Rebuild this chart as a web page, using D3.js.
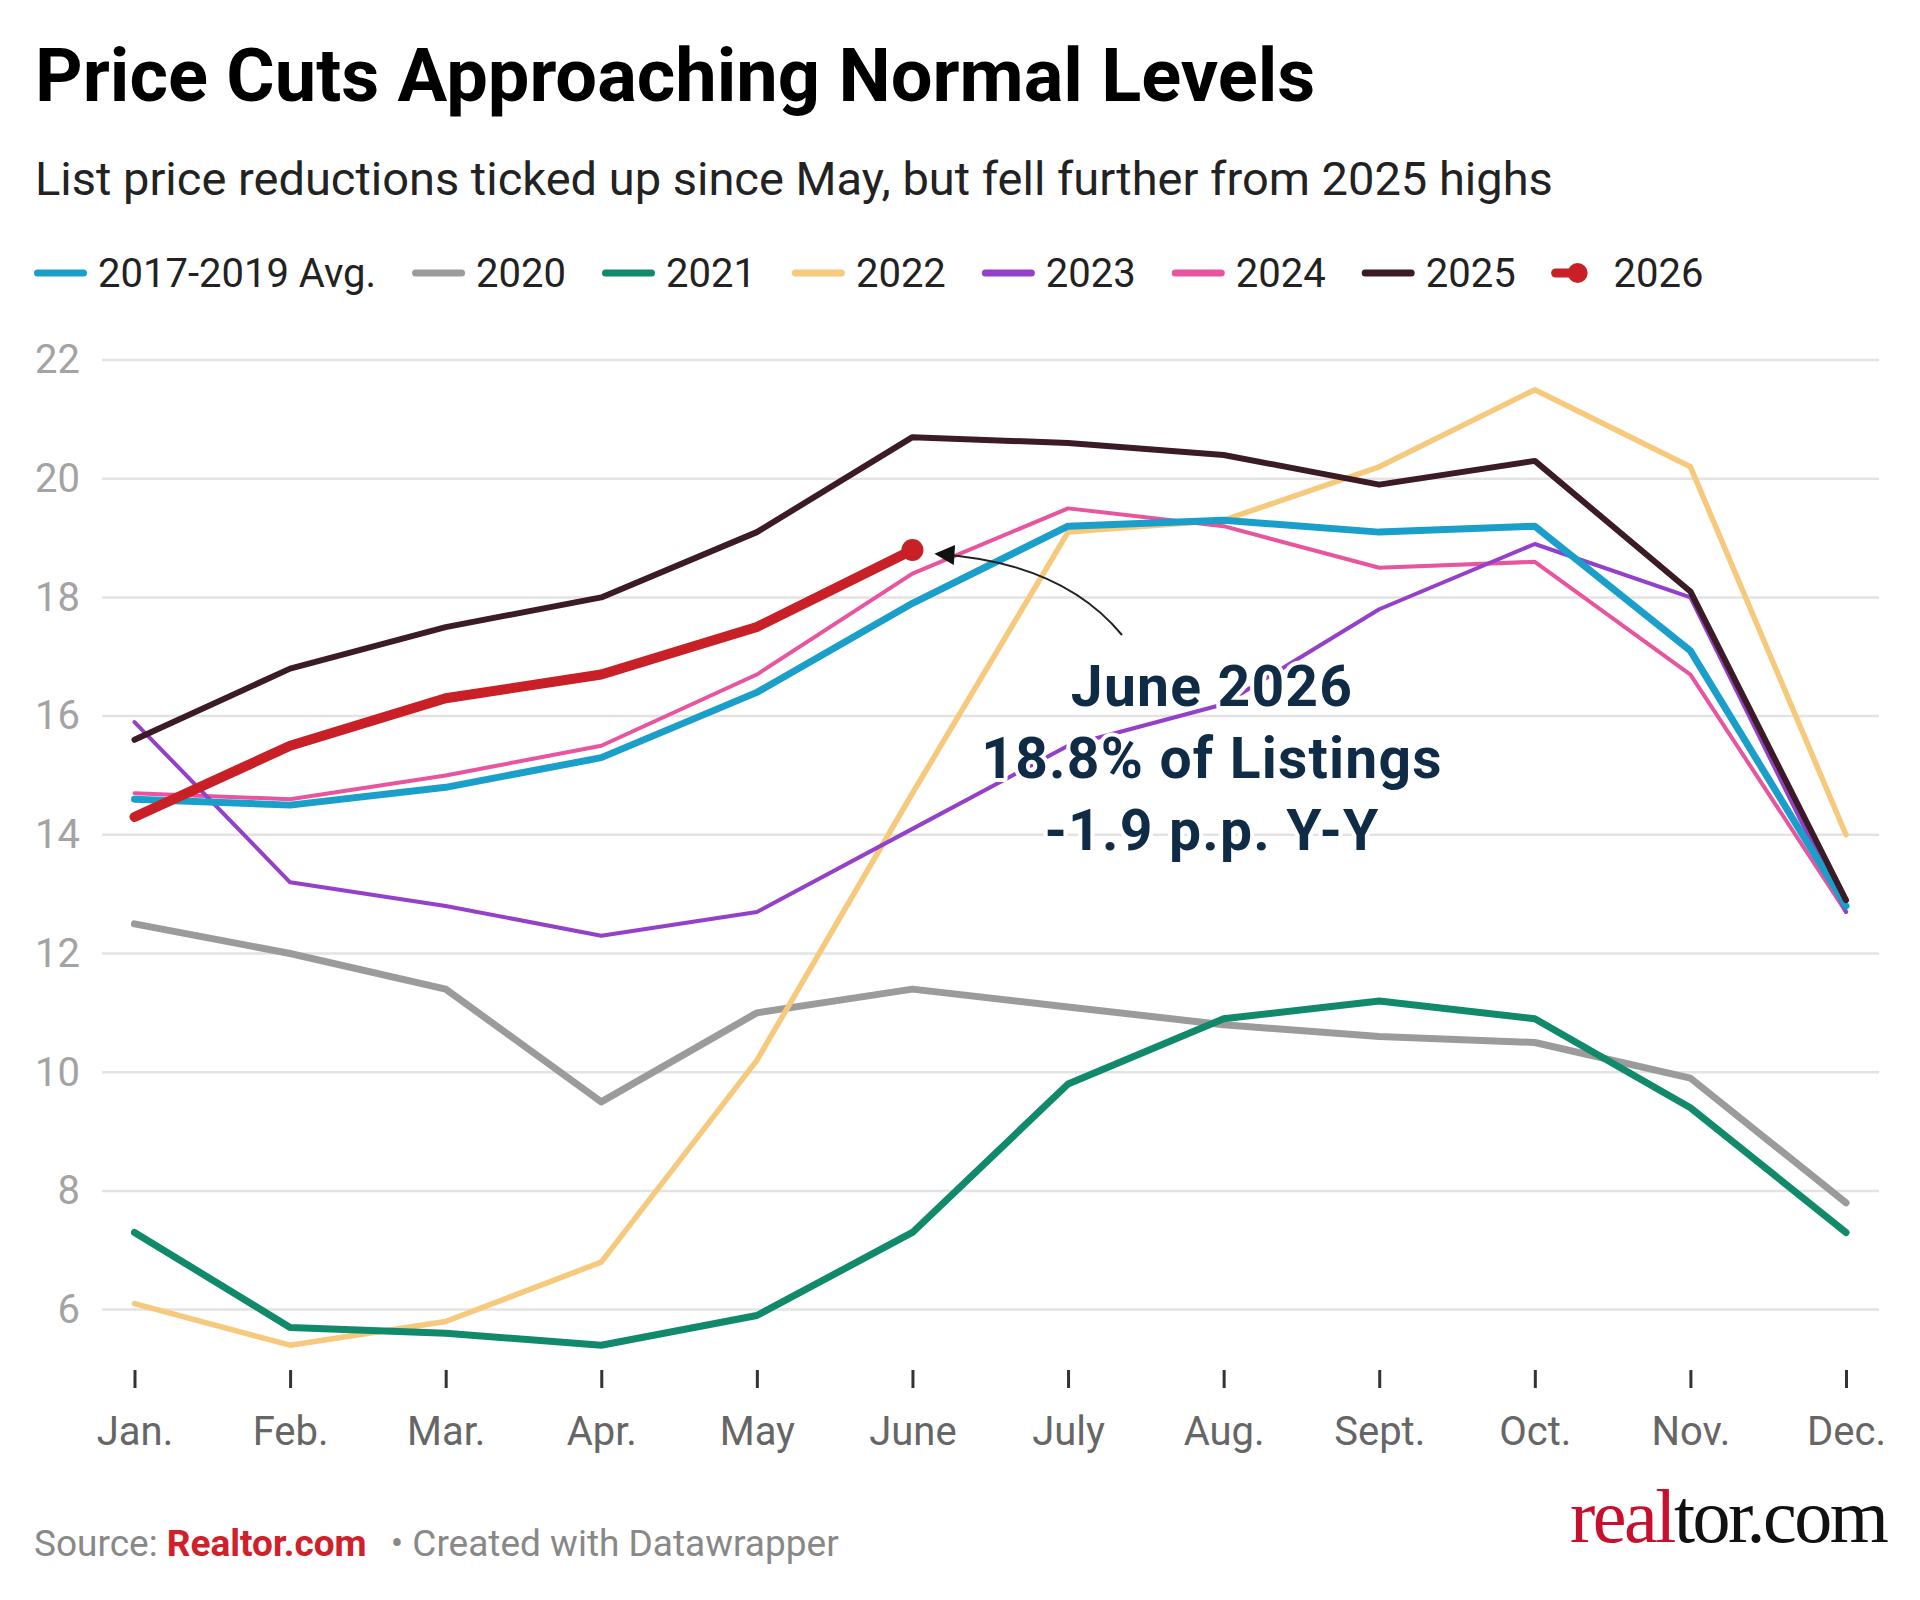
<!DOCTYPE html>
<html>
<head>
<meta charset="utf-8">
<script src="https://cdn.jsdelivr.net/npm/d3@7"></script>
<style>
  body { margin: 0; background: #fff; }
  svg { display: block; font-family: Roboto, "Noto Sans", sans-serif; }
</style>
</head>
<body>
<div id="chart"></div>
<script>
// month labels on the x axis
const months = ["Jan.", "Feb.", "Mar.", "Apr.", "May", "June", "July", "Aug.", "Sept.", "Oct.", "Nov.", "Dec."];
const yTicks = [6, 8, 10, 12, 14, 16, 18, 20, 22];

// share of listings with a price cut, %
const avg1719 = [14.6, 14.5, 14.8, 15.3, 16.4, 17.9, 19.2, 19.3, 19.1, 19.2, 17.1, 12.8];
const y2020 = [12.5, 12.0, 11.4, 9.5, 11.0, 11.4, 11.1, 10.8, 10.6, 10.5, 9.9, 7.8];
const y2021 = [7.3, 5.7, 5.6, 5.4, 5.9, 7.3, 9.8, 10.9, 11.2, 10.9, 9.4, 7.3];
const y2022 = [6.1, 5.4, 5.8, 6.8, 10.2, 14.7, 19.1, 19.3, 20.2, 21.5, 20.2, 14.0];
const y2023 = [15.9, 13.2, 12.8, 12.3, 12.7, 14.1, 15.5, 16.2, 17.8, 18.9, 18.0, 12.7];
const y2024 = [14.7, 14.6, 15.0, 15.5, 16.7, 18.4, 19.5, 19.2, 18.5, 18.6, 16.7, 12.7];
const y2025 = [15.6, 16.8, 17.5, 18.0, 19.1, 20.7, 20.6, 20.4, 19.9, 20.3, 18.1, 12.9];
const y2026 = [14.3, 15.5, 16.3, 16.7, 17.5, 18.8];

const seriesNames = ["2017-2019 Avg.", "2020", "2021", "2022", "2023", "2024", "2025", "2026"];
const seriesValues = [avg1719, y2020, y2021, y2022, y2023, y2024, y2025, y2026];
const seriesColors = ["#1a9fcb", "#9b9b9b", "#118a6b", "#f6c97c", "#9440c8", "#e8559f", "#3b1b25", "#c91f26"];
const seriesWidths = [7, 7, 7, 5.5, 4, 4, 6, 10];
// drawing order, bottom to top
const drawOrder = ["2020", "2022", "2021", "2024", "2023", "2017-2019 Avg.", "2025", "2026"];

const W = 1920, H = 1600;
const svg = d3.select("#chart").append("svg")
    .attr("width", W)
    .attr("height", H);

// title + subtitle
svg.append("text")
    .attr("x", 35).attr("y", 101)
    .attr("font-size", 74).attr("font-weight", 700)
    .attr("fill", "#000")
    .text("Price Cuts Approaching Normal Levels");

svg.append("text")
    .attr("x", 35).attr("y", 195)
    .attr("font-size", 47)
    .attr("fill", "#222")
    .text("List price reductions ticked up since May, but fell further from 2025 highs");

// legend
const legend = svg.append("g").attr("transform", "translate(34,273)");
let lx = 0;
seriesNames.forEach((name, i) => {
    const g = legend.append("g").attr("transform", `translate(${lx},0)`);
    if (name === "2026") {
        g.append("line")
            .attr("x1", 4).attr("x2", 26).attr("y1", 0).attr("y2", 0)
            .attr("stroke", seriesColors[i]).attr("stroke-width", 9)
            .attr("stroke-linecap", "round");
        g.append("circle").attr("cx", 26).attr("cy", 0).attr("r", 10)
            .attr("fill", seriesColors[i]);
    } else {
        g.append("line")
            .attr("x1", 3.5).attr("x2", 49.5).attr("y1", 0).attr("y2", 0)
            .attr("stroke", seriesColors[i]).attr("stroke-width", 7)
            .attr("stroke-linecap", "round");
    }
    const t = g.append("text")
        .attr("x", name === "2026" ? 62 : 64).attr("y", 14)
        .attr("font-size", 40)
        .attr("fill", "#222")
        .text(name);
    lx += 64 + t.node().getComputedTextLength() + 36;
});

// scales
const x = d3.scalePoint().domain(months).range([134.5, 1846]);
const y = d3.scaleLinear().domain([6, 22]).range([1309.6, 360]);

// gridlines
svg.append("g")
    .selectAll("line")
    .data(yTicks)
    .join("line")
    .attr("x1", 102).attr("x2", 1879)
    .attr("y1", d => y(d)).attr("y2", d => y(d))
    .attr("stroke", "#e3e3e3")
    .attr("stroke-width", 2.5);

// y axis labels
const yAxis = svg.append("g")
    .attr("transform", "translate(80,0)")
    .call(d3.axisLeft(y).tickValues(yTicks).tickSize(0).tickPadding(0));
yAxis.select(".domain").remove();
yAxis.selectAll("text")
    .attr("font-size", 40)
    .attr("font-family", "Roboto, sans-serif")
    .attr("fill", "#a3a3a3");

// x axis
const xAxis = svg.append("g")
    .attr("transform", "translate(0,1370)")
    .call(d3.axisBottom(x).tickSize(18).tickPadding(29));
xAxis.select(".domain").remove();
xAxis.selectAll("line").attr("stroke", "#333").attr("stroke-width", 3);
xAxis.selectAll("text")
    .attr("font-size", 40)
    .attr("font-family", "Roboto, sans-serif")
    .attr("fill", "#666");

// lines
const line = d3.line()
    .x((d, i) => x(months[i]))
    .y(d => y(d));

const linesG = svg.append("g");
drawOrder.forEach(name => {
    const i = seriesNames.indexOf(name);
    linesG.append("path")
        .datum(seriesValues[i])
        .attr("fill", "none")
        .attr("stroke", seriesColors[i])
        .attr("stroke-width", seriesWidths[i])
        .attr("stroke-linejoin", "round")
        .attr("stroke-linecap", "round")
        .attr("d", line);
});

// end dot on 2026
const last = y2026.length - 1;
linesG.append("circle")
    .attr("cx", x(months[last]))
    .attr("cy", y(y2026[last]))
    .attr("r", 11)
    .attr("fill", "#c91f26");

// annotation arrow
svg.append("defs").append("marker")
    .attr("id", "arrow")
    .attr("viewBox", "0 0 10 10")
    .attr("refX", 9).attr("refY", 5)
    .attr("markerWidth", 24).attr("markerHeight", 20)
    .attr("markerUnits", "userSpaceOnUse")
    .attr("orient", "auto")
    .append("path")
    .attr("d", "M0,0 L10,5 L0,10 z")
    .attr("fill", "#111");

const tipX = x(months[last]) + 24, tipY = y(y2026[last]) + 4;
svg.append("path")
    .attr("d", `M1122,635 Q1062,562 ${tipX},${tipY}`)
    .attr("fill", "none")
    .attr("stroke", "#222")
    .attr("stroke-width", 2)
    .attr("marker-end", "url(#arrow)");

// annotation text
const annoLines = ["June 2026", "18.8% of Listings", "-1.9 p.p. Y-Y"];
svg.append("g")
    .selectAll("text")
    .data(annoLines)
    .join("text")
    .attr("x", 1212)
    .attr("y", (d, i) => 706 + i * 72)
    .attr("text-anchor", "middle")
    .attr("font-size", 57)
    .attr("letter-spacing", 1.2)
    .attr("font-weight", 700)
    .attr("fill", "#0f2b46")
    .attr("stroke", "#fff")
    .attr("stroke-width", 8)
    .attr("stroke-linejoin", "round")
    .attr("paint-order", "stroke")
    .text(d => d);

// footer
const foot = svg.append("text")
    .attr("x", 34).attr("y", 1556)
    .attr("font-size", 37);
foot.append("tspan").attr("fill", "#888").text("Source: ");
foot.append("tspan").attr("fill", "#d0202a").attr("font-weight", 700).text("Realtor.com");
foot.append("tspan").attr("fill", "#888").attr("dx", 24).text("• Created with Datawrapper");

// logo
const logo = svg.append("text")
    .attr("x", 1570).attr("y", 1542)
    .attr("font-family", "'Liberation Serif', 'DejaVu Serif', serif")
    .attr("font-size", 76)
    .attr("letter-spacing", -2.5);
logo.append("tspan").attr("fill", "#c8102e").text("real");
logo.append("tspan").attr("fill", "#111").text("tor.com");
</script>
</body>
</html>
